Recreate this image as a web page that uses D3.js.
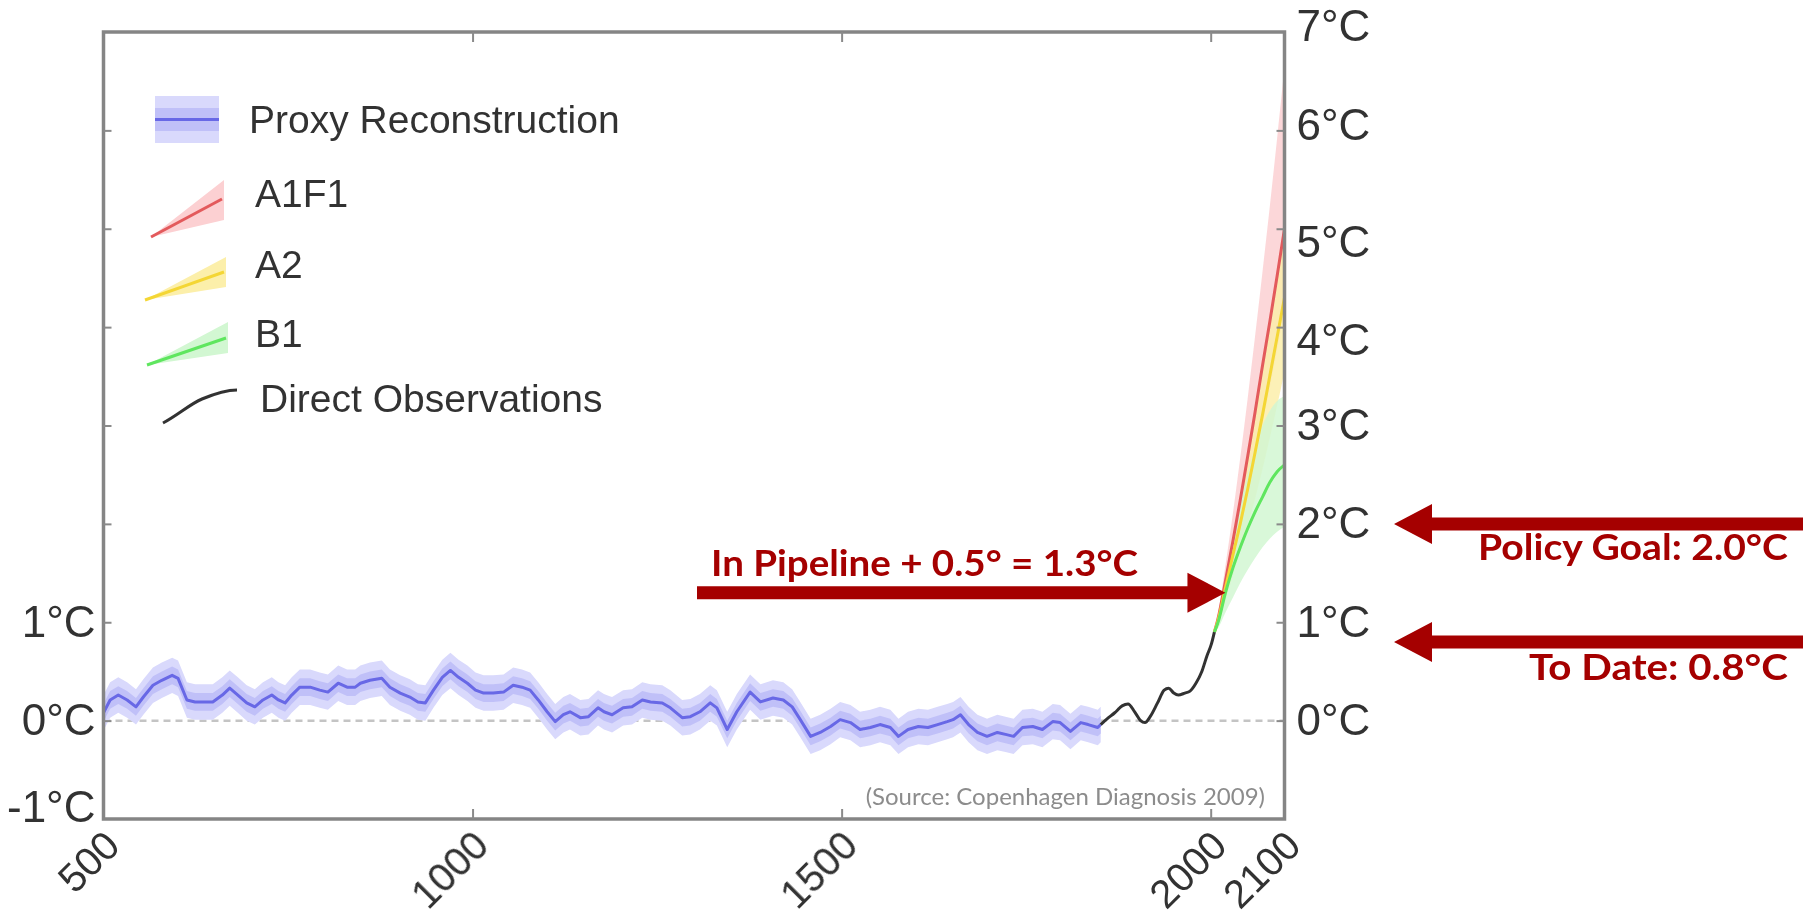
<!DOCTYPE html>
<html>
<head>
<meta charset="utf-8">
<script src="https://cdn.jsdelivr.net/npm/d3@7"></script>
<style>
  html, body { margin: 0; padding: 0; background: #fff; }
  svg { display: block; }
</style>
</head>
<body>
<svg id="chart" width="1803" height="915"></svg>
<script>
// Proxy reconstruction of temperature anomaly (°C), years 500–1850
const proxyYears = [500,509,520,532,544,554,567,579,593,601,613,624,638,648,661,671,682,694,705,716,728,737,746,755,766,780,793,804,818,830,841,848,861,877,888,902,915,926,936,947,959,970,981,993,1004,1015,1028,1042,1055,1067,1078,1089,1101,1112,1123,1132,1146,1157,1170,1178,1189,1204,1216,1230,1241,1257,1268,1284,1295,1308,1322,1331,1345,1358,1376,1390,1407,1421,1433,1444,1458,1471,1485,1498,1512,1525,1539,1552,1566,1577,1590,1604,1617,1630,1643,1651,1661,1672,1684,1697,1711,1722,1733,1745,1759,1772,1786,1796,1810,1824,1834,1847,1851];
const proxyTemps = [0.08,0.21,0.26,0.21,0.14,0.24,0.36,0.41,0.46,0.43,0.21,0.19,0.19,0.19,0.26,0.33,0.26,0.18,0.14,0.21,0.26,0.21,0.18,0.26,0.34,0.34,0.31,0.29,0.38,0.34,0.34,0.38,0.41,0.43,0.34,0.28,0.24,0.19,0.18,0.31,0.44,0.51,0.44,0.38,0.31,0.28,0.28,0.29,0.36,0.34,0.31,0.21,0.09,-0.01,0.06,0.09,0.03,0.04,0.13,0.09,0.06,0.13,0.14,0.21,0.19,0.18,0.13,0.03,0.04,0.09,0.18,0.13,-0.09,0.09,0.29,0.19,0.23,0.21,0.14,0.01,-0.16,-0.12,-0.06,0.01,-0.02,-0.09,-0.07,-0.04,-0.07,-0.16,-0.09,-0.06,-0.07,-0.04,-0.01,0.01,0.06,-0.04,-0.12,-0.16,-0.12,-0.14,-0.16,-0.07,-0.06,-0.09,-0.01,-0.02,-0.11,-0.02,-0.04,-0.07,-0.04];
const proxyOuter = 0.18;   // half-width of the outer uncertainty band
const proxyInner = 0.09;   // half-width of the inner uncertainty band

// Instrumental record
const obsYears = [1851,1860,1870,1880,1888,1897,1905,1911,1918,1928,1937,1943,1950,1956,1965,1972,1980,1988,1995,2001,2005];
const obsTemps = [-0.04,0.02,0.08,0.15,0.17,0.09,0.0,-0.02,0.04,0.18,0.31,0.33,0.28,0.26,0.28,0.30,0.38,0.50,0.66,0.78,0.90];

// Emission scenario projections
const projYears = [2005,2010,2020,2030,2040,2050,2060,2070,2080,2090,2100];
const a1f1Mid  = [0.9,1.04,1.42,1.82,2.24,2.68,3.13,3.60,4.05,4.52,5.00];
const a1f1Low  = [0.9,1.00,1.30,1.60,1.92,2.27,2.63,3.00,3.38,3.77,4.15];
const a1f1High = [0.9,1.09,1.58,2.10,2.67,3.27,3.90,4.55,5.22,5.92,6.65];
const a2Mid    = [0.9,1.02,1.35,1.68,2.00,2.35,2.72,3.10,3.50,3.90,4.30];
const a2Low    = [0.9,0.98,1.22,1.47,1.72,1.98,2.25,2.55,2.87,3.20,3.55];
const a2High   = [0.9,1.06,1.47,1.88,2.28,2.70,3.13,3.58,4.05,4.50,4.95];
const b1Mid    = [0.9,1.00,1.30,1.55,1.76,1.95,2.12,2.27,2.42,2.53,2.60];
const b1Low    = [0.9,0.94,1.10,1.25,1.40,1.53,1.65,1.76,1.85,1.92,1.97];
const b1High   = [0.9,1.05,1.48,1.85,2.20,2.50,2.78,3.00,3.15,3.25,3.30];

// Axes
const xTicks = [500,1000,1500,2000,2100];
const xInnerTicks = [1000,1500,2000];
const yTicks = [-1,0,1,2,3,4,5,6,7];
const leftLabelled = [-1,0,1];
const rightLabelled = [0,1,2,3,4,5,6,7];

// Annotated levels (°C)
const pipelineLevel = 1.3;
const policyGoal = 2.0;
const toDate = 0.8;

const legendNames = ["Proxy Reconstruction","A1F1","A2","B1","Direct Observations"];

const svg = d3.select("#chart");
svg.append("rect").attr("width",1803).attr("height",915).attr("fill","#fff");

const defs = svg.append("defs");
defs.append("filter").attr("id","soft").attr("x","-5%").attr("y","-5%").attr("width","110%").attr("height","110%")
  .append("feGaussianBlur").attr("stdDeviation",0.7);

const x = d3.scaleLinear().domain([500,2100]).range([103.5,1284.5]);
const y = d3.scaleLinear().domain([-1,7]).range([819,32]);

defs.append("clipPath").attr("id","plot")
  .append("rect").attr("x",x(500)).attr("y",y(7)).attr("width",x(2100)-x(500)).attr("height",y(-1)-y(7));

const chart = svg.append("g").attr("filter","url(#soft)");
const data = chart.append("g").attr("clip-path","url(#plot)");

// zero reference line
data.append("line")
  .attr("x1",x(500)).attr("x2",x(2100)).attr("y1",y(0)).attr("y2",y(0))
  .attr("stroke","#c4c4c4").attr("stroke-width",2.5).attr("stroke-dasharray","7,5");

// proxy reconstruction
const proxy = proxyYears.map((yr,i) => ({yr, t: proxyTemps[i]}));
const band = w => d3.area().x(d => x(d.yr)).y0(d => y(d.t - w)).y1(d => y(d.t + w));
data.append("path").datum(proxy).attr("d",band(proxyOuter)).attr("fill","#d9d9fc");
data.append("path").datum(proxy).attr("d",band(proxyInner)).attr("fill","#c0c0f8");
data.append("path").datum(proxy)
  .attr("d",d3.line().x(d => x(d.yr)).y(d => y(d.t)))
  .attr("fill","none").attr("stroke","#6767e6").attr("stroke-width",3).attr("stroke-linejoin","round");

// scenario projections
const scenarios = [
  {name:"A1F1", mid:a1f1Mid, low:a1f1Low, high:a1f1High, line:"#e35a5c", fill:"#fcd0d2"},
  {name:"A2",   mid:a2Mid,   low:a2Low,   high:a2High,   line:"#f4d634", fill:"#fcefaa"},
  {name:"B1",   mid:b1Mid,   low:b1Low,   high:b1High,   line:"#5ee65e", fill:"#d2f7d2"}
];
const projArea = d3.area().curve(d3.curveMonotoneX).x(d => x(d.yr)).y0(d => y(d.lo)).y1(d => y(d.hi));
const projLine = d3.line().curve(d3.curveMonotoneX).x(d => x(d.yr)).y(d => y(d.t));
scenarios.forEach(s => {
  const pts = projYears.map((yr,i) => ({yr, lo:s.low[i], hi:s.high[i]}));
  data.append("path").datum(pts).attr("d",projArea).attr("fill",s.fill).attr("fill-opacity",0.85);
});
scenarios.forEach(s => {
  const pts = projYears.map((yr,i) => ({yr, t:s.mid[i]}));
  data.append("path").datum(pts).attr("d",projLine).attr("fill","none")
    .attr("stroke",s.line).attr("stroke-width",3);
});

// instrumental observations
data.append("path").datum(obsYears.map((yr,i) => ({yr, t: obsTemps[i]})))
  .attr("d",d3.line().curve(d3.curveMonotoneX).x(d => x(d.yr)).y(d => y(d.t)))
  .attr("fill","none").attr("stroke","#333").attr("stroke-width",3);

// frame
chart.append("rect")
  .attr("x",x(500)).attr("y",y(7)).attr("width",x(2100)-x(500)).attr("height",y(-1)-y(7))
  .attr("fill","none").attr("stroke","#858585").attr("stroke-width",3.5);

const labelFont = g => g.attr("font-family","'Liberation Sans', Arial, sans-serif").attr("font-size",44);

// bottom axis
const gx = chart.append("g").attr("transform",`translate(0,${y(-1)})`)
  .call(d3.axisBottom(x).tickValues(xTicks).tickSize(-10).tickPadding(0).tickFormat(d3.format("d")))
  .call(labelFont);
gx.select(".domain").remove();
gx.selectAll(".tick line").attr("stroke","#8a8a8a").attr("stroke-width",2)
  .filter(d => !xInnerTicks.includes(d)).remove();
gx.selectAll(".tick text").attr("fill","#333").attr("font-size",40).attr("y",0).attr("dy","0.35em")
  .attr("text-anchor","end").attr("transform","translate(8,19) rotate(-45)");

// top axis (ticks only)
const gt = chart.append("g").attr("transform",`translate(0,${y(7)})`)
  .call(d3.axisTop(x).tickValues(xInnerTicks).tickSize(-10).tickFormat(""));
gt.select(".domain").remove();
gt.selectAll(".tick line").attr("stroke","#8a8a8a").attr("stroke-width",2);

// left axis
const gl = chart.append("g").attr("transform",`translate(${x(500)},0)`)
  .call(d3.axisLeft(y).tickValues(yTicks).tickSize(-8).tickPadding(8)
    .tickFormat(d => leftLabelled.includes(d) ? `${d}°C` : ""))
  .call(labelFont);
gl.select(".domain").remove();
gl.selectAll(".tick line").attr("stroke","#8a8a8a").attr("stroke-width",2)
  .filter(d => d === -1 || d === 7).remove();
gl.selectAll(".tick text").attr("fill","#333").filter(d => d === -1).attr("dy","0.05em");

// right axis; the 4°C–6°C labels sit slightly off their ticks
const rightNudge = {7: -6, 6: -5, 5: 14, 4: 13};
const gr = chart.append("g").attr("transform",`translate(${x(2100)},0)`)
  .call(d3.axisRight(y).tickValues(yTicks).tickSize(-8).tickPadding(12)
    .tickFormat(d => rightLabelled.includes(d) ? `${d}°C` : ""))
  .call(labelFont);
gr.select(".domain").remove();
gr.selectAll(".tick line").attr("stroke","#8a8a8a").attr("stroke-width",2)
  .filter(d => d === -1 || d === 7).remove();
gr.selectAll(".tick text").attr("fill","#333").attr("y", d => rightNudge[d] || 0);

// legend
const lg = chart.append("g").attr("font-family","'Liberation Sans', Arial, sans-serif")
  .attr("font-size",39).attr("fill","#333");
lg.append("rect").attr("x",155).attr("y",96).attr("width",64).attr("height",47).attr("fill","#d9d9fc");
lg.append("rect").attr("x",155).attr("y",108).attr("width",64).attr("height",23).attr("fill","#c0c0f8");
lg.append("line").attr("x1",155).attr("x2",219).attr("y1",119.5).attr("y2",119.5)
  .attr("stroke","#6767e6").attr("stroke-width",3);
lg.append("text").attr("x",249).attr("y",133).text(legendNames[0]);

const wedges = [
  {tip:[151,237], top:[224,180], bot:[224,220], end:[222,199], base:207},
  {tip:[145,300], top:[226,257], bot:[226,287], end:[224,272], base:278},
  {tip:[147,365], top:[228,322], bot:[228,353], end:[226,338], base:347}
];
scenarios.forEach((s,i) => {
  const w = wedges[i];
  lg.append("polygon").attr("points",[w.tip,w.top,w.bot].map(p => p.join(",")).join(" "))
    .attr("fill",s.fill);
  lg.append("line").attr("x1",w.tip[0]).attr("y1",w.tip[1]).attr("x2",w.end[0]).attr("y2",w.end[1])
    .attr("stroke",s.line).attr("stroke-width",3);
  lg.append("text").attr("x",255).attr("y",w.base).text(legendNames[i+1]);
});
lg.append("path").attr("d","M163,423 C178,415 190,404 202,399 S225,390 237,390")
  .attr("fill","none").attr("stroke","#333").attr("stroke-width",3);
lg.append("text").attr("x",260).attr("y",412).text(legendNames[4]);

// source note
chart.append("text").attr("x",1265).attr("y",805).attr("text-anchor","end")
  .attr("font-family","Lato, 'Open Sans', sans-serif").attr("font-size",24).attr("fill","#8c8c8c")
  .text("(Source: Copenhagen Diagnosis 2009)");

// annotations
const ann = svg.append("g");
const red = "#a50000";
function arrow(x0, x1, yc) {
  const dir = Math.sign(x1 - x0), sh = 6.5, hh = 20, hl = 38;
  const xb = x1 - dir * hl;
  const pts = [[x0,yc-sh],[xb,yc-sh],[xb,yc-hh],[x1,yc],[xb,yc+hh],[xb,yc+sh],[x0,yc+sh]];
  ann.append("polygon").attr("points", pts.map(p => p.join(",")).join(" ")).attr("fill", red);
}
// year at which the B1 path reaches the pipeline level
let crossYear = projYears[0];
for (let i = 1; i < projYears.length; i++) {
  if (b1Mid[i] >= pipelineLevel) {
    const f = (pipelineLevel - b1Mid[i-1]) / (b1Mid[i] - b1Mid[i-1]);
    crossYear = projYears[i-1] + f * (projYears[i] - projYears[i-1]);
    break;
  }
}
const redText = (tx, ty, anchor, str, len) => ann.append("text").attr("x",tx).attr("y",ty)
  .attr("text-anchor",anchor).attr("font-family","Lato, 'Open Sans', sans-serif")
  .attr("font-weight","bold").attr("font-size",37).attr("fill",red)
  .attr("textLength",len).attr("lengthAdjust","spacingAndGlyphs").text(str);

arrow(697, x(crossYear), y(pipelineLevel));
redText(711, y(pipelineLevel) - 17, "start", "In Pipeline + 0.5° = 1.3°C", 427);

arrow(1803, 1394, y(policyGoal));
redText(1788, y(policyGoal) + 36, "end", "Policy Goal: 2.0°C", 310);

arrow(1803, 1394, y(toDate));
redText(1788, y(toDate) + 38, "end", "To Date: 0.8°C", 259);
</script>
</body>
</html>
